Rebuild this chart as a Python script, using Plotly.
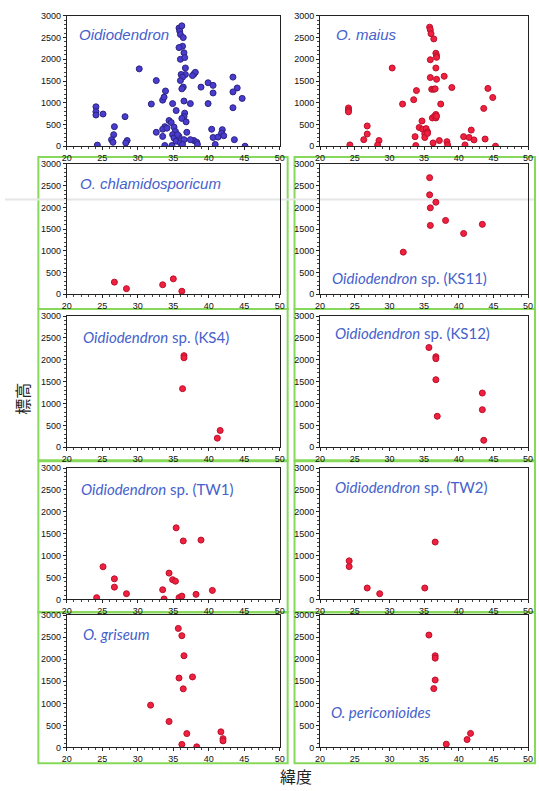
import plotly.graph_objects as go

W, H = 539, 791

# ---------------- data (latitude, elevation) ----------------
oidio_lat = [24.1, 24.1, 24.1, 25.1, 24.3, 26.7, 26.6, 26.3, 26.5, 28.2, 28.5, 28.3,
             30.2, 32.6, 31.9, 32.6, 33.9, 33.5, 33.7, 34.9, 36.5, 37.4, 35.4, 36.6,
             36.5, 36.2, 33.5, 33.8, 34.8, 35.8, 35.9, 36.0, 36.2, 36.4, 36.3, 35.8,
             36.0, 36.5, 36.6, 36.7, 36.7, 36.1, 36.3, 36.0, 36.4, 36.2, 37.9, 38.1,
             37.7, 38.9, 39.9, 40.6, 40.6, 39.9, 40.4, 40.6, 41.3, 41.9, 41.8, 42.1,
             40.9, 43.4, 44.0, 43.4, 43.4, 44.7, 43.6, 45.1, 37.9, 38.3, 37.4, 38.4,
             34.4, 34.7, 33.8, 33.5, 34.1, 35.1, 35.3, 34.9, 35.1, 35.4, 35.8, 36.0,
             36.5, 36.9, 36.3, 35.6, 36.8]
oidio_elev = [907, 794, 718, 740, 25, 450, 265, 150, 90, 680, 130, 75,
              1780, 1510, 970, 320, 1270, 1060, 1130, 980, 1040, 980, 820, 760,
              680, 640, 225, 15, 15, 2720, 2650, 2570, 2770, 2500, 2300, 2270,
              2000, 2150, 2040, 1800, 1650, 1650, 1590, 1510, 1360, 1320, 1660, 1700,
              1625, 1360, 1460, 1400, 1225, 980, 390, 200, 210, 380, 300, 240,
              40, 1590, 1340, 1250, 885, 1100, 150, 0, 130, 90, 150, 40,
              590, 545, 450, 390, 415, 440, 340, 265, 190, 115, 225, 75,
              150, 320, 40, 265, 560]

maius_lat = [24.1, 24.1, 24.1, 24.3, 26.8, 26.8, 26.3, 28.5, 28.3, 30.4, 31.9, 33.5,
             33.9, 33.7, 33.8, 34.7, 34.3, 34.8, 35.3, 35.5, 35.1, 35.1, 35.5, 35.8,
             35.9, 36.0, 36.4, 35.9, 36.7, 36.8, 36.8, 36.7, 35.9, 36.8, 37.9, 36.1,
             36.4, 36.6, 37.4, 36.2, 36.5, 36.7, 36.7, 36.8, 36.3, 37.2, 38.3, 38.4,
             39.0, 40.7, 41.5, 41.8, 42.2, 40.9, 43.6, 44.2, 44.9, 43.8, 45.3]
maius_elev = [880, 830, 790, 30, 466, 280, 150, 130, 30, 1800, 970, 1070,
              1280, 220, 15, 580, 430, 390, 405, 330, 280, 200, 295, 2740,
              2680, 2590, 2470, 1990, 2140, 2085, 2045, 1800, 1580, 1540, 1610, 1310,
              1310, 1320, 970, 650, 690, 730, 650, 690, 75, 130, 105, 30,
              1350, 220, 200, 370, 145, 30, 870, 1330, 1120, 165, 0]

chlam_lat = [26.7, 28.4, 33.5, 35.0, 36.2]
chlam_elev = [280, 130, 220, 355, 70]

ks11_lat = [35.8, 35.8, 36.7, 35.9, 35.9, 38.1, 40.7, 43.4, 32.0]
ks11_elev = [2685, 2290, 2120, 1990, 1585, 1700, 1400, 1610, 970]

ks4_lat = [36.5, 36.5, 36.3, 41.6, 41.2]
ks4_elev = [2095, 2045, 1340, 385, 210]

ks12_lat = [35.7, 36.7, 36.7, 36.7, 36.9, 43.4, 43.4, 43.6]
ks12_elev = [2280, 2070, 2025, 1545, 710, 1240, 860, 160]

tw1_lat = [24.2, 25.1, 26.7, 26.7, 28.4, 33.5, 33.7, 34.4, 34.9, 35.3, 35.4, 36.4,
           38.9, 35.8, 36.2, 38.2, 40.5]
tw1_elev = [40, 745, 470, 280, 130, 220, 10, 600, 450, 415, 1635, 1335,
            1355, 40, 75, 115, 205]

tw2_lat = [24.2, 24.2, 26.8, 28.6, 35.1, 36.6]
tw2_elev = [880, 750, 260, 130, 260, 1310]

gris_lat = [35.7, 36.2, 36.5, 35.8, 37.7, 36.4, 31.8, 34.4, 36.9, 36.2, 38.3, 41.7, 42.0, 42.0]
gris_elev = [2700, 2535, 2080, 1575, 1600, 1330, 960, 590, 315, 70, 15, 355, 200, 150]

peri_lat = [35.7, 36.6, 36.6, 36.6, 36.4, 38.2, 41.2, 41.7]
peri_elev = [2550, 2080, 2025, 1530, 1335, 75, 180, 320]

x_ticks = [20, 25, 30, 35, 40, 45, 50]
y_ticks = [0, 500, 1000, 1500, 2000, 2500, 3000]
x_title = "緯度"
y_title = "標高"

panels = [
    ("Oidiodendron", None, oidio_lat, oidio_elev, "blue"),
    ("O. maius", None, maius_lat, maius_elev, "red"),
    ("O. chlamidosporicum", None, chlam_lat, chlam_elev, "red"),
    ("Oidiodendron", " sp. (KS11)", ks11_lat, ks11_elev, "red"),
    ("Oidiodendron", " sp. (KS4)", ks4_lat, ks4_elev, "red"),
    ("Oidiodendron", " sp. (KS12)", ks12_lat, ks12_elev, "red"),
    ("Oidiodendron", " sp. (TW1)", tw1_lat, tw1_elev, "red"),
    ("Oidiodendron", " sp. (TW2)", tw2_lat, tw2_elev, "red"),
    ("O. griseum", None, gris_lat, gris_elev, "red"),
    ("O. periconioides", None, peri_lat, peri_elev, "red"),
]

# ---------------- layout geometry (pixels) ----------------
col_x = [(63, 280), (321, 533)]
row_y = [(11, 143), (161, 293), (315, 448), (469, 602), (618, 752)]
# label anchor (left x, center y) in pixels
label_pos = [(73, 30), (335, 30), (74, 181), (331, 277), (77, 336),
             (334, 332), (75, 490), (334, 488), (77, 637), (330, 716)]


def fx(px):
    return px / W


def fy(py):
    return 1 - py / H


TICKFONT = "Liberation Sans"
fig = go.Figure()
layout = dict(
    width=W, height=H, margin=dict(l=0, r=0, t=0, b=0),
    paper_bgcolor="white", plot_bgcolor="white", showlegend=False,
    font=dict(family=TICKFONT, color="#111"),
)
annotations = []
shapes = []

styles = {
    "blue": dict(color="#4a3ccf", line=dict(color="#2b2480", width=1)),
    "red": dict(color="#f2203f", line=dict(color="#b8102c", width=1)),
}

for i, (name, suffix, lat, elev, style) in enumerate(panels):
    r, c = divmod(i, 2)
    k = i + 1
    xa = "xaxis" if k == 1 else f"xaxis{k}"
    ya = "yaxis" if k == 1 else f"yaxis{k}"
    xr = "x" if k == 1 else f"x{k}"
    yr = "y" if k == 1 else f"y{k}"
    fig.add_trace(go.Scatter(
        x=lat, y=elev, mode="markers", xaxis=xr, yaxis=yr,
        marker=dict(size=6, **styles[style]), hoverinfo="x+y"))
    x0, x1 = col_x[c]
    y0, y1 = row_y[r]
    common = dict(showgrid=False, zeroline=False, showline=True, linecolor="#222",
                  linewidth=1, mirror=True, ticks="outside", ticklen=3,
                  tickcolor="#222", tickfont=dict(size=9, color="#111", family=TICKFONT))
    layout[xa] = dict(domain=[fx(x0), fx(x1)], range=[20, 50], anchor=yr,
                      tickvals=x_ticks, ticklabelstandoff=0,
                      minor=dict(dtick=1, ticks="outside", ticklen=2, tickcolor="#444"),
                      **common)
    layout[ya] = dict(domain=[fy(y1), fy(y0)], range=[0, 3000], anchor=xr,
                      tickvals=y_ticks, ticklabelstandoff=0,
                      minor=dict(dtick=100, ticks="outside", ticklen=2, tickcolor="#444"),
                      **common)
    lx, ly = label_pos[i]
    if suffix is None:
        txt = f"<i>{name}</i>"
        fam = "Liberation Sans"
        size = 15
        if i >= 8:
            fam = "Lato"
            size = 15
    else:
        txt = f"<i>{name}</i>{suffix}"
        fam = "Lato"
        size = 15
    annotations.append(dict(text=txt, x=fx(lx), y=fy(ly), xref="paper", yref="paper",
                            xanchor="left", yanchor="middle", showarrow=False,
                            font=dict(size=size, color="#4561cc", family=fam)))

# axis titles
annotations.append(dict(text=y_title, x=fx(17), y=fy(399), xref="paper", yref="paper",
                        textangle=-90, showarrow=False, xanchor="center", yanchor="middle",
                        font=dict(size=16, color="#222", family="Noto Sans CJK JP")))
annotations.append(dict(text=x_title, x=fx(296), y=fy(781), xref="paper", yref="paper",
                        showarrow=False, xanchor="center", yanchor="middle",
                        font=dict(size=16, color="#222", family="Noto Sans CJK JP")))

# green frames around lower panels
green = "#86d95a"
frame_rows = [(154, 308), (308, 461), (462, 615), (615, 768)]
frame_cols = [(34, 288), (295, 540)]
for (fy0, fy1) in frame_rows:
    for (fx0, fx1) in frame_cols:
        shapes.append(dict(type="rect", xref="paper", yref="paper",
                           x0=fx(fx0), x1=fx(fx1), y0=fy(fy1), y1=fy(fy0),
                           line=dict(color=green, width=2), layer="below"))
# faint scan line across the figure
shapes.append(dict(type="line", xref="paper", yref="paper", x0=0, x1=1,
                   y0=fy(197), y1=fy(197), line=dict(color="#e6e6e6", width=2),
                   layer="below"))

layout["annotations"] = annotations
layout["shapes"] = shapes
fig.update_layout(**layout)
fig.write_html("out.html",
               config={"displayModeBar": False},
               post_script="document.body.style.margin='0px';"
                           "document.body.style.overflow='hidden';")
